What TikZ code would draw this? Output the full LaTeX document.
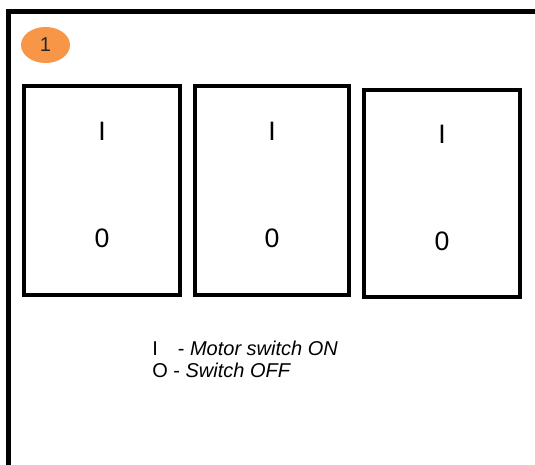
\documentclass[tikz,border=0pt]{standalone}
\usepackage{fontspec}
\setmainfont{Liberation Sans}
\usetikzlibrary{positioning,shapes.geometric}
\definecolor{badgeorange}{HTML}{F79646}

\begin{document}
\begin{tikzpicture}[x=0.75pt,y=-0.75pt,
  switchbox/.style={draw,line width=3.2pt,outer sep=0pt,inner sep=0pt,
    minimum width=117pt,minimum height=156.75pt},
  switchmark/.style={anchor=base,font=\fontsize{20}{22}\selectfont},
  legendtext/.style={anchor=north west,inner sep=0pt,align=left,
    font=\fontsize{15}{16.2}\selectfont}]
 \clip (0,0) rectangle (535,464);
 % outer frame, only left and top sides show
 \draw[line width=3.2pt] (8.5,11.5) rectangle (560,490);
 \node[ellipse,fill=badgeorange,minimum width=36.75pt,minimum height=27pt,
   inner sep=0pt,text=black!85,font=\fontsize{15}{17}\selectfont] (badge) at (45.5,45) {1};
 \node[switchbox] (sw1) at (102,190.5) {};
 \node[switchbox,minimum width=115.5pt,right=11.25pt of sw1] (sw2) {};
 \node[switchbox,minimum height=155.25pt,right=11.25pt of sw2,yshift=-2.25pt] (sw3) {};
 \node[switchmark] (on1) at ([yshift=37.5pt]sw1.center) {I};
 \node[switchmark] (off1) at ([yshift=-43pt]sw1.center) {0};
 \node[switchmark] (on2) at ([yshift=37.5pt]sw2.center) {I};
 \node[switchmark] (off2) at ([yshift=-43pt]sw2.center) {0};
 \node[switchmark] (on3) at ([yshift=37.5pt]sw3.center) {I};
 \node[switchmark] (off3) at ([yshift=-43pt]sw3.center) {0};
 % legend
 \node[legendtext] (legend) at (152,341) {I\hspace{15pt}- \textit{Motor switch ON}\\
   O - \textit{Switch OFF}};
\end{tikzpicture}
\end{document}
